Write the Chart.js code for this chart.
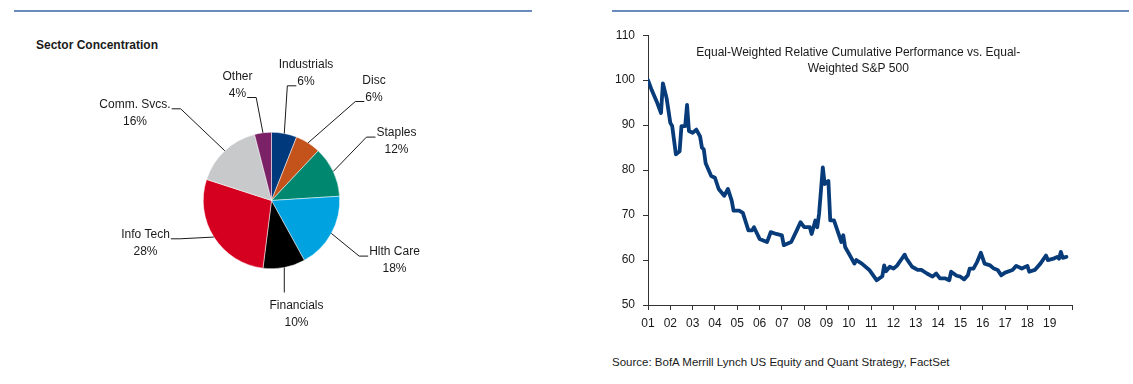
<!DOCTYPE html>
<html>
<head>
<meta charset="utf-8">
<script src="https://cdn.jsdelivr.net/npm/chart.js@4"></script>
<style>
  html, body { margin: 0; padding: 0; background: #fff; }
  body { width: 1133px; height: 384px; position: relative; overflow: hidden;
         font-family: "Liberation Sans", Arial, sans-serif; color: #1a1a1a; }
  .rule { position: absolute; top: 10px; height: 2px; background: #6a8bbd; }
  #pieBox { position: absolute; left: 0; top: 0; width: 560px; height: 384px; }
  #lineBox { position: absolute; left: 590px; top: 20px; width: 500px; height: 310px; }
  .title { position: absolute; left: 36px; top: 38px; font-size: 12px; font-weight: bold; }
  .source { position: absolute; left: 612px; top: 356px; font-size: 11.5px; }
</style>
</head>
<body>
<div class="rule" style="left:14px; width:518px;"></div>
<div class="rule" style="left:612px; width:517px;"></div>
<div class="title">Sector Concentration</div>
<div id="pieBox"><canvas id="pieChart"></canvas></div>
<div id="lineBox"><canvas id="lineChart"></canvas></div>
<div class="source">Source: BofA Merrill Lynch US Equity and Quant Strategy, FactSet</div>

<script>
// --- pie data ---
var sectors = ['Industrials', 'Disc', 'Staples', 'Hlth Care', 'Financials', 'Info Tech', 'Comm. Svcs.', 'Other'];
var weights = [6, 6, 12, 18, 10, 28, 16, 4];
var sectorColors = ['#003a7d', '#c3521b', '#00876f', '#00a3e0', '#000000', '#d50020', '#c8c9cb', '#7b2267'];

// --- line data (month, relative performance) ---
var months = [
  '2001-01','2001-03','2001-06','2001-08','2001-09','2001-11',
  '2002-01','2002-02','2002-04','2002-06','2002-07','2002-09','2002-10','2002-11',
  '2003-01','2003-03','2003-05','2003-06','2003-07','2003-08','2003-11',
  '2004-01','2004-03','2004-06','2004-08','2004-10','2004-11',
  '2005-02','2005-04','2005-07','2005-09','2005-10',
  '2006-01','2006-05','2006-07','2006-10',
  '2007-01','2007-02','2007-06','2007-09','2007-11',
  '2008-01','2008-04','2008-05','2008-07','2008-08','2008-09','2008-11','2008-12',
  '2009-02','2009-03','2009-05','2009-09','2009-10','2009-11',
  '2010-02','2010-04','2010-05','2010-08','2010-12',
  '2011-04','2011-07','2011-08','2011-09','2011-11',
  '2012-01','2012-03','2012-05','2012-07','2012-08','2012-11',
  '2013-02','2013-04','2013-07','2013-10','2013-12',
  '2014-02','2014-05','2014-07','2014-08','2014-11',
  '2015-01','2015-03','2015-05','2015-06','2015-08','2015-10','2015-12',
  '2016-02','2016-05','2016-07','2016-09','2016-11',
  '2017-01','2017-05','2017-07','2017-10',
  '2018-01','2018-02','2018-05','2018-08','2018-11','2018-12',
  '2019-03','2019-05','2019-06','2019-07','2019-08','2019-10'
];
var relPerf = [
  100.0, 97.8, 94.9, 92.7, 99.3, 96.0,
  90.5, 89.8, 83.5, 84.2, 89.8, 89.8, 94.5, 88.7,
  88.3, 89.0, 87.5, 85.0, 84.6, 81.5, 78.7,
  78.3, 75.8, 74.3, 75.8, 73.2, 71.0,
  71.0, 70.5, 66.6, 66.6, 67.3,
  64.7, 64.0, 66.2, 65.8,
  65.5, 63.3, 64.0, 66.6, 68.4,
  67.3, 67.3, 65.8, 68.8, 67.3, 70.3, 80.6, 76.9,
  77.6, 68.8, 68.8, 64.0, 65.5, 62.9,
  60.7, 59.2, 60.0, 59.2, 57.8,
  55.5, 56.4, 58.8, 57.5, 58.5,
  58.1, 58.8, 60.0, 61.2, 60.3, 58.5,
  57.8, 57.8, 57.0, 56.3, 57.0,
  55.9, 55.9, 55.5, 57.4, 56.5,
  56.3, 55.7, 56.6, 58.1, 58.1, 59.6, 61.6,
  59.2, 58.8, 58.1, 57.8, 56.6,
  57.2, 57.8, 58.7, 58.1,
  58.7, 57.4, 57.8, 59.2, 61.0, 60.0,
  60.3, 60.7, 60.3, 61.8, 60.5, 60.7
];
var yearTicks = [2001, 2020];   // x range, labelled 01 .. 19
var yTicks = [50, 110, 10];     // min, max, step

var chartTitle = ['Equal-Weighted Relative Cumulative Performance vs. Equal-', 'Weighted S&P 500'];

Chart.defaults.font.family = '"Liberation Sans", Arial, sans-serif';
Chart.defaults.font.size = 12;
Chart.defaults.color = '#1a1a1a';

function toYear(m) {
  return +m.slice(0, 4) + (+m.slice(5) - 1) / 12;
}

// label placement around the pie (offset of first text line from pie centre)
var labelLayout = [
  { dx: 34.5,   dy: -135.7, line: 1, side: 'left' },
  { dx: 102.5,  dy: -120,   line: 1, side: 'left' },
  { dx: 125,    dy: -67.4,  line: 0, side: 'left' },
  { dx: 123,    dy: 51.6,   line: 0, side: 'left' },
  { dx: 25,     dy: 105,    line: 0, side: 'top' },
  { dx: -126,   dy: 34.3,   line: 0, side: 'right' },
  { dx: -136.5, dy: -95.7,  line: 0, side: 'right' },
  { dx: -34,    dy: -124,   line: 1, side: 'right' }
];

var pieLabels = {
  id: 'pieLabels',
  afterDatasetsDraw: function (chart) {
    var ctx = chart.ctx;
    var arcs = chart.getDatasetMeta(0).data;
    ctx.save();
    ctx.font = '12px "Liberation Sans", Arial, sans-serif';
    ctx.fillStyle = '#1a1a1a';
    ctx.strokeStyle = '#1a1a1a';
    ctx.lineWidth = 1;
    ctx.textAlign = 'center';
    ctx.textBaseline = 'middle';
    arcs.forEach(function (arc, i) {
      var L = labelLayout[i];
      var mid = (arc.startAngle + arc.endAngle) / 2;
      var ex = arc.x + Math.cos(mid) * arc.outerRadius;
      var ey = arc.y + Math.sin(mid) * arc.outerRadius;
      var lx = arc.x + L.dx, ly = arc.y + L.dy;
      var lines = [sectors[i], weights[i] + '%'];
      lines.forEach(function (t, k) { ctx.fillText(t, lx, ly + k * 17); });

      ctx.beginPath();
      ctx.moveTo(ex, ey);
      if (L.side === 'top') {
        ctx.lineTo(ex, ly - 13);
      } else {
        var w = ctx.measureText(lines[L.line]).width;
        var ty = ly + L.line * 17 + 4;
        var dir = L.side === 'left' ? -1 : 1;
        var tx = lx + dir * (w / 2 + 1);
        ctx.lineTo(tx + dir * 9, ty);
        ctx.lineTo(tx, ty);
      }
      ctx.stroke();
    });
    ctx.restore();
  }
};

new Chart(document.getElementById('pieChart'), {
  type: 'pie',
  data: {
    labels: sectors,
    datasets: [{
      data: weights,
      backgroundColor: sectorColors,
      borderColor: '#ffffff',
      borderWidth: 0.5,
      hoverOffset: 0
    }]
  },
  options: {
    responsive: true,
    maintainAspectRatio: false,
    animation: false,
    layout: { padding: { left: 203, right: 220, top: 132, bottom: 115 } },
    plugins: { legend: { display: false }, tooltip: { enabled: false } }
  },
  plugins: [pieLabels]
});

var innerTitle = {
  id: 'innerTitle',
  afterDraw: function (chart) {
    var ctx = chart.ctx, a = chart.chartArea;
    ctx.save();
    ctx.font = '12px "Liberation Sans", Arial, sans-serif';
    ctx.fillStyle = '#1a1a1a';
    ctx.textAlign = 'center';
    ctx.textBaseline = 'middle';
    var cx = a.left + a.width * 0.496;
    chartTitle.forEach(function (t, k) { ctx.fillText(t, cx, a.top + 17.5 + k * 16); });
    ctx.restore();
  }
};

new Chart(document.getElementById('lineChart'), {
  type: 'line',
  data: {
    datasets: [{
      data: months.map(function (m, i) { return { x: toYear(m), y: relPerf[i] }; }),
      borderColor: '#073b7a',
      borderWidth: 3.8,
      borderJoinStyle: 'round',
      borderCapStyle: 'round',
      pointRadius: 0,
      tension: 0
    }]
  },
  options: {
    responsive: true,
    maintainAspectRatio: false,
    animation: false,
    layout: { padding: { left: 0, right: 18, top: 13, bottom: 0 } },
    plugins: { legend: { display: false }, tooltip: { enabled: false } },
    scales: {
      x: {
        type: 'linear',
        min: yearTicks[0],
        max: yearTicks[1],
        afterFit: function (s) { s.height = 25; },
        ticks: {
          stepSize: 1,
          padding: 6,
          maxRotation: 0,
          autoSkip: false,
          color: '#1a1a1a',
          callback: function (v) { return v < yearTicks[1] ? String(v).slice(2) : ''; }
        },
        grid: { drawOnChartArea: false, drawTicks: true, tickLength: 5, color: '#333' },
        border: { display: true, color: '#333', width: 1 }
      },
      y: {
        min: yTicks[0],
        max: yTicks[1],
        afterFit: function (s) { s.width = 58; },
        ticks: { stepSize: yTicks[2], padding: 8, color: '#1a1a1a' },
        grid: { drawOnChartArea: false, drawTicks: true, tickLength: 5, color: '#333' },
        border: { display: true, color: '#333', width: 1 }
      }
    }
  },
  plugins: [innerTitle]
});
</script>
</body>
</html>
